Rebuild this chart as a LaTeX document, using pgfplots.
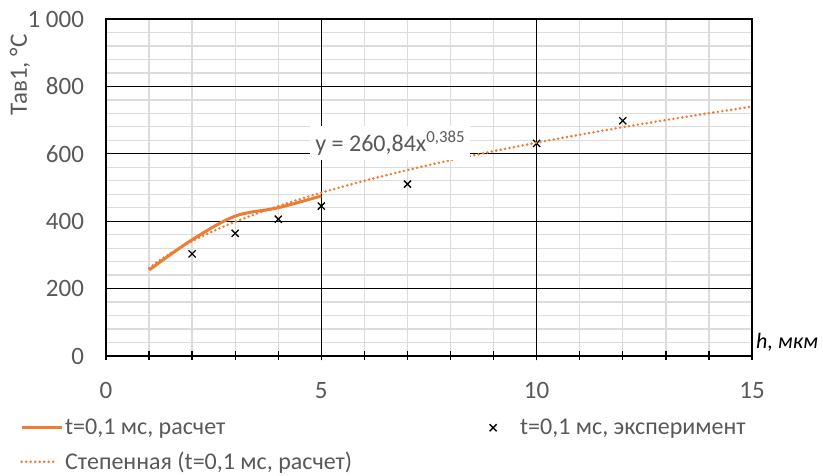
\documentclass[border=0pt]{standalone}
\usepackage{fontspec}
\setmainfont{Carlito}
\usepackage{pgfplots}
\pgfplotsset{compat=1.18}
\definecolor{exorange}{HTML}{ED7D31}
\definecolor{txtgray}{HTML}{595959}
\definecolor{mingray}{HTML}{DCDCDC}
\newcommand{\tf}{\fontsize{25}{29}\selectfont}
\newcommand{\lf}{\fontsize{24}{28}\selectfont}
\pgfplotsset{
  legsolid/.style={legend image code/.code={\draw[##1] (0pt,0pt) -- (40pt,0pt);}},
  legdot/.style={legend image code/.code={\draw[##1] (0pt,0pt) -- (36pt,0pt);}},
  legmark/.style={legend image code/.code={\path[draw=none,fill=none] (0pt,-5pt) rectangle (30pt,5pt); \draw[##1] plot coordinates {(5pt,0pt)};}},
}
\begin{document}
\begin{tikzpicture}
\begin{axis}[
  scale only axis, width=646pt, height=337pt,
  at={(0,0)}, anchor=south west,
  clip mode=individual,
  xmin=0, xmax=15, ymin=0, ymax=1000,
  xtick={0,5,10,15}, xticklabels={0,5,10,15},
  ytick={0,200,400,600,800,1000}, yticklabels={0,200,400,600,800,1 000},
  minor x tick num=4, minor y tick num=4,
  grid=both,
  major grid style={black, line width=1.3pt},
  minor grid style={mingray, line width=1.3pt},
  extra x ticks={5,10}, extra x tick labels={},
  extra x tick style={grid=major, major grid style={black, line width=1.3pt}},
  axis line style={black, line width=1.3pt},
  x tick style={black, line width=1.3pt},
  y tick style={draw=none},
  tick pos=left,
  tick align=center,
  major tick length=9pt, minor tick length=9pt,
  /pgf/number format/assume math mode=true,
  ticklabel style={font=\tf, text=txtgray},
  xticklabel style={yshift=-18pt},
  yticklabel style={xshift=-14pt},
  legend columns=2,
  legend cell align=left,
  legend style={at={(axis description cs:0,0)}, anchor=north west,
    xshift=-86pt, yshift=-61pt, draw=none, fill=none, inner sep=0pt,
    font=\lf, text=txtgray, row sep=12pt,
    /tikz/every even column/.append style={column sep=134pt}},
]
\addplot[exorange, line width=3pt, smooth, tension=0.55, legsolid]
  coordinates {(1,255) (2,345) (3,415) (4,440) (5,475)};
\addlegendentry{t=0,1 мс, расчет}
\addplot[only marks, mark=x, mark size=5pt, black, mark options={line width=1.3pt}, legmark]
  coordinates {(2,303) (3,364) (4,406) (5,445) (7,510) (10,631) (12,698)};
\addlegendentry{t=0,1 мс, эксперимент}
\addplot[exorange, line width=2.8pt, line cap=round, dash pattern=on 0pt off 4.5pt, smooth, legdot]
  coordinates {(1,260.8) (1.25,284.2) (1.5,304.9) (1.75,323.6) (2,340.6) (2.5,371.2) (3,398.2) (3.5,422.5) (4,444.8) (4.5,465.4) (5,484.7) (6,519.9) (7,551.8) (8,580.9) (9,607.8) (10,633.0) (11,656.6) (12,679.0) (13,700.2) (14,720.5) (15,739.9)};
\addlegendentry{Степенная (t=0,1 мс, расчет)}
\node[fill=white, text=txtgray, font=\fontsize{24}{28}\selectfont, inner sep=5pt] at (axis cs:6.6,632) {y = 260,84x\textsuperscript{0,385}};
\node[rotate=90, text=txtgray, font=\tf] at ([xshift=-86pt]rel axis cs:0,0.834) {Тав1, °С};
\node[anchor=west, text=black, font=\fontsize{22}{26}\selectfont\itshape, inner sep=0pt] at ([xshift=4pt, yshift=14pt]rel axis cs:1,0) {h, мкм};
\end{axis}
\pgfresetboundingbox
\path (-106pt,-120pt) rectangle (717pt,356pt);
\end{tikzpicture}
\end{document}
